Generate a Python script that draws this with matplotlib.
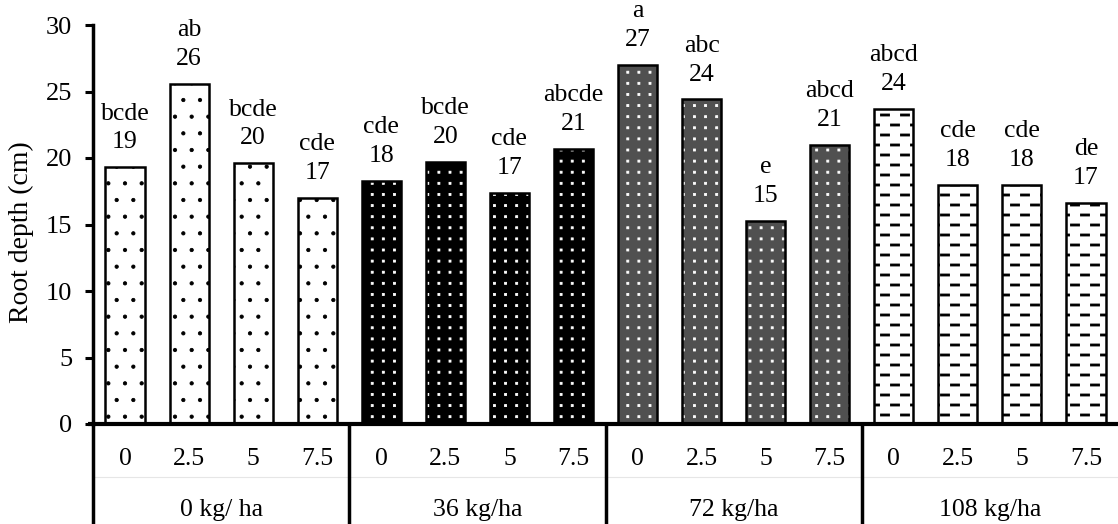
import warnings

import matplotlib.pyplot as plt
import numpy as np
from matplotlib import hatch as mhatch
from matplotlib.path import Path

warnings.filterwarnings("ignore")
plt.rcParams['font.family'] = ['Liberation Serif', 'DejaVu Serif']
plt.rcParams['hatch.linewidth'] = 0.6

# data
groups = ["0 kg/ ha", "36 kg/ha", "72 kg/ha", "108 kg/ha"]
levels = ["0", "2.5", "5", "7.5"]
root_depth = [19.3, 25.6, 19.6, 17.0,
              18.3, 19.7, 17.4, 20.7,
              27.0, 24.4, 15.3, 21.0,
              23.7, 18.0, 18.0, 16.6]
shown = [19, 26, 20, 17, 18, 20, 17, 21, 27, 24, 15, 21, 24, 18, 18, 17]
letters = ["bcde", "ab", "bcde", "cde",
           "cde", "bcde", "cde", "abcde",
           "a", "abc", "e", "abcd",
           "abcd", "cde", "cde", "de"]


class StaggeredDashes(mhatch.HatchPatternBase):
    """'_' : short horizontal dashes, every other row shifted half a period."""

    def __init__(self, hatch, density):
        self.rows = hatch.count('_') * 10
        self.per_row = 5
        self.num_vertices = self.rows * self.per_row * 5

    def set_vertices_and_codes(self, vertices, codes):
        h = 0.01
        i = 0
        for r in range(self.rows):
            y = (r + 0.5) / self.rows
            shift = 0.1 if r % 2 else 0.0
            for k in range(self.per_row):
                x0 = k * 0.2 + 0.005 + shift
                x1 = x0 + 0.09
                vertices[i:i + 5] = [(x0, y - h), (x1, y - h), (x1, y + h),
                                     (x0, y + h), (x0, y - h)]
                codes[i:i + 5] = [Path.MOVETO, Path.LINETO, Path.LINETO,
                                  Path.LINETO, Path.CLOSEPOLY]
                i += 5


class GridDots(mhatch.HatchPatternBase):
    """':' : small square dots on a plain square grid."""

    def __init__(self, hatch, density):
        self.n = hatch.count(':') * 9
        self.num_vertices = self.n * self.n * 5

    def set_vertices_and_codes(self, vertices, codes):
        h = 0.01
        i = 0
        for r in range(self.n):
            for c in range(self.n):
                x = (c + 0.5) / self.n
                y = (r + 0.5) / self.n
                vertices[i:i + 5] = [(x - h, y - h), (x + h, y - h), (x + h, y + h),
                                     (x - h, y + h), (x - h, y - h)]
                codes[i:i + 5] = [Path.MOVETO, Path.LINETO, Path.LINETO,
                                  Path.LINETO, Path.CLOSEPOLY]
                i += 5


mhatch._hatch_types.extend([StaggeredDashes, GridDots])

# per-group fill style: (face, hatch, hatch colour)
styles = [("white", ".", "black"),
          ("black", ":", "white"),
          ("#505050", ":", "white"),
          ("white", "_", "black")]

fig = plt.figure(figsize=(11.18, 5.24), dpi=100)
ax = fig.add_axes([93 / 1118, 100 / 524, 1025 / 1118, 399 / 524])

x = np.arange(len(root_depth))
for i, (xi, v) in enumerate(zip(x, root_depth)):
    face, hatch, hcol = styles[i // 4]
    ax.bar(xi, v, width=0.61, color=face, edgecolor=hcol, hatch=hatch, linewidth=0)
    ax.bar(xi, v, width=0.61, fill=False, edgecolor="black", linewidth=1.8)
    ax.text(xi, v + 1.05, f"{letters[i]}\n{shown[i]}", ha="center", va="bottom",
            fontsize=18.5, linespacing=1.4)

ax.set_xlim(-0.5, len(root_depth) - 0.5)
ax.set_ylim(0, 30)
ax.set_yticks(np.arange(0, 31, 5))
ax.tick_params(axis="y", labelsize=19, length=6, width=2.2, direction="out", pad=9)
ax.set_xticks([])
ax.set_ylabel("Root depth (cm)", fontsize=20)
ax.yaxis.set_label_coords(-0.0576, 0.481)

for s in ["top", "right"]:
    ax.spines[s].set_visible(False)
ax.spines["left"].set_linewidth(2.5)
ax.spines["bottom"].set_visible(False)

# category table below the axis
trans = ax.get_xaxis_transform()
ax.plot([-0.5, 15.5], [-0.133, -0.133], transform=trans, color="#e6e6e6", lw=0.8,
        clip_on=False)
for xi in x:
    ax.text(xi, -0.088, levels[xi % 4], transform=trans, ha="center", va="center",
            fontsize=18.5)
for g, name in enumerate(groups):
    ax.text(g * 4 + 1.5, -0.216, name, transform=trans, ha="center", va="center",
            fontsize=18.5)
for sep in [-0.5, 3.5, 7.5, 11.5]:
    ax.plot([sep, sep], [0, -0.26], transform=trans, color="black", lw=2.5,
            clip_on=False, solid_capstyle="butt")
ax.plot([-0.58, 15.5], [0, 0], transform=trans, color="black", lw=3, clip_on=False,
        solid_capstyle="butt")

fig.savefig("out.png", dpi=100)
